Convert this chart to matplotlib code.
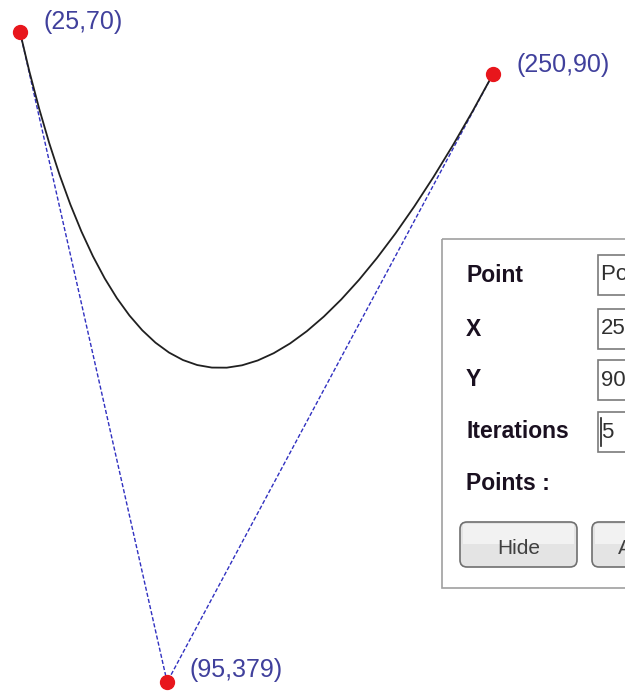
import numpy as np
import matplotlib.pyplot as plt
from matplotlib.patches import Rectangle, FancyBboxPatch

# control points of the quadratic bezier (screen coords, y grows downward)
ctrl_x = [25, 95, 250]
ctrl_y = [70, 379, 90]
point_labels = ['(25,70)', '(95,379)', '(250,90)']
iterations = 5

# panel contents
field_names = ['Point', 'X', 'Y', 'Iterations']
field_values = ['Point 3', '250', '90', '5']
button_names = ['Hide', 'Apply']


def subdivide(pts, n):
    # de Casteljau subdivision, n times
    curves = [np.array(pts, dtype=float)]
    for _ in range(n):
        new = []
        for p in curves:
            a = (p[0] + p[1]) / 2
            b = (p[1] + p[2]) / 2
            m = (a + b) / 2
            new.append(np.array([p[0], a, m]))
            new.append(np.array([m, b, p[2]]))
        curves = new
    out = [curves[0][0]] + [c[2] for c in curves]
    return np.array(out)


fig = plt.figure(figsize=(6.25, 7), dpi=100)
fig.patch.set_facecolor('white')

ax = fig.add_axes([0, 0, 1, 1])
ax.set_xlim(15.49, 312.8)
ax.set_ylim(387.5, 54.79)
ax.axis('off')

# control polygon
ax.plot(ctrl_x, ctrl_y, color='#3030c0', lw=1.0, ls=(0, (3, 1.5)), zorder=2)

# curve
curve = subdivide(list(zip(ctrl_x, ctrl_y)), iterations)
ax.plot(curve[:, 0], curve[:, 1], color='#202020', lw=1.3, zorder=3)

ax.plot(ctrl_x, ctrl_y, 'o', color='#e8161c', ms=10, mec='#e8161c', zorder=4)
offsets = [(24, 10), (22, 12), (24, 9)]
for x, y, lab, (dx, dy) in zip(ctrl_x, ctrl_y, point_labels, offsets):
    ax.annotate(lab, (x, y), xytext=(dx * 0.72, dy * 0.72), textcoords='offset points',
                ha='left', va='center', fontsize=18, color='#40409c',
                family='Liberation Sans')

# settings panel, drawn in pixel coordinates
ui = fig.add_axes([0, 0, 1, 1])
ui.set_xlim(0, 625)
ui.set_ylim(700, 0)
ui.axis('off')
ui.patch.set_alpha(0)

ui.add_patch(Rectangle((442, 239), 300, 349, fill=False, ec='#a0a0a0', lw=1.2))

rows_y = [275, 329, 380, 432]
for name, val, yy in zip(field_names, field_values, rows_y):
    ui.text(466, yy, name, ha='left', va='center', fontsize=16.5, fontweight='bold',
            color='#1a1020', family='Liberation Sans')
    ui.add_patch(Rectangle((598, yy - 20), 120, 40, fc='white', ec='#7a7a7a', lw=1.2))
    ui.text(601, yy, val, ha='left', va='center', fontsize=16, color='#303030',
            family='Liberation Sans')
# caret in the iterations box
ui.plot([601, 601], [418, 446], color='#202020', lw=1.2)

ui.text(466, 484, 'Points :', ha='left', va='center', fontsize=16.5, fontweight='bold',
        color='#1a1020', family='Liberation Sans')

btn_x = [460, 592]
for name, bx in zip(button_names, btn_x):
    ui.add_patch(FancyBboxPatch((bx, 522), 117, 45, boxstyle='round,pad=0,rounding_size=7',
                                fc='#e4e4e4', ec='#707070', lw=1.2))
    ui.add_patch(Rectangle((bx + 3, 524), 111, 20, fc='#f2f2f2', ec='none'))
ui.text(518.5, 548, button_names[0], ha='center', va='center', fontsize=15,
        color='#404040', family='Liberation Sans')
ui.text(618, 548, button_names[1], ha='left', va='center', fontsize=15,
        color='#404040', family='Liberation Sans')

fig.savefig('out.png', dpi=100, facecolor='white')
